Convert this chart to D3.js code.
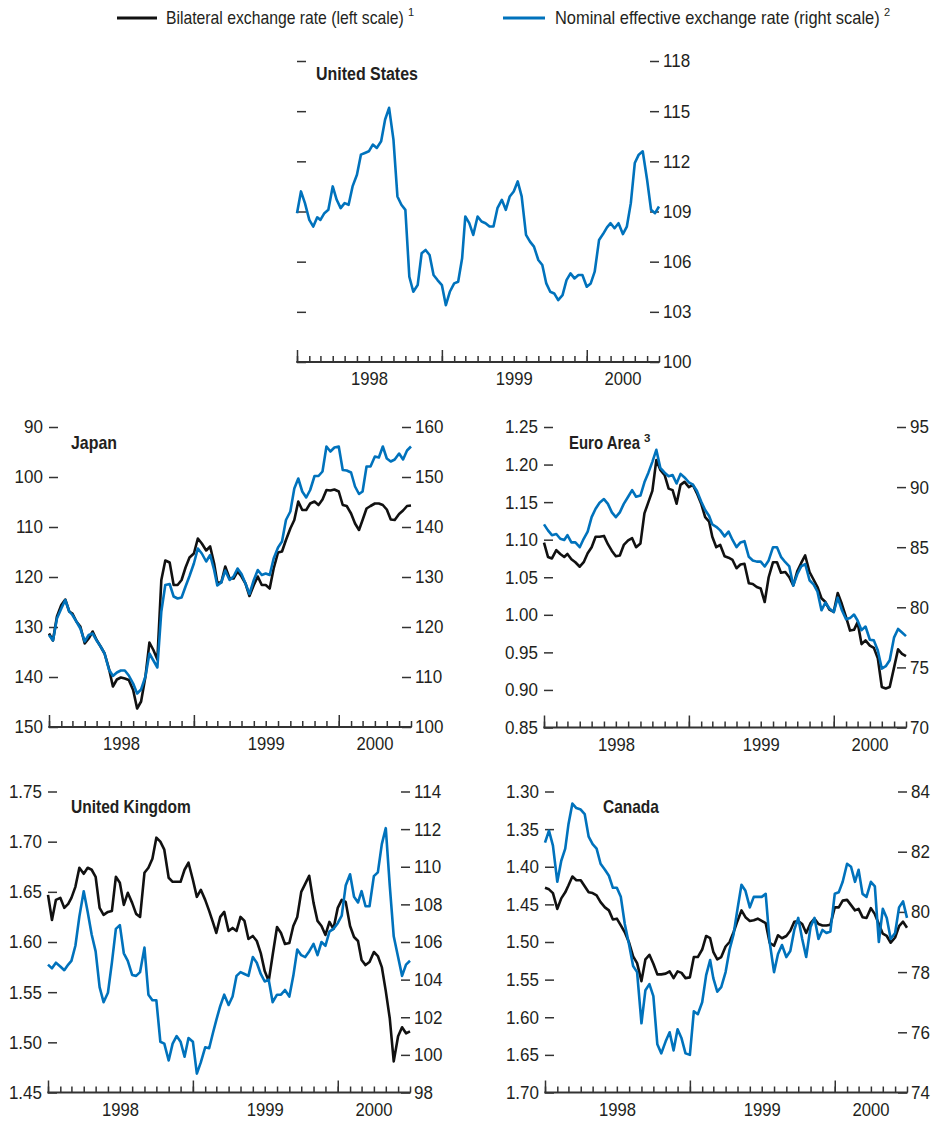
<!DOCTYPE html>
<html><head><meta charset="utf-8">
<script src="https://cdn.jsdelivr.net/npm/d3@7"></script>
<style>
body{margin:0;background:#fff;}
svg text{font-family:"Liberation Sans",Arial,sans-serif;fill:#231f20;}
</style></head><body>
<svg id="chart" width="935" height="1121"></svg>
<script>
// ---------- DATA (~10-day spacing) ----------
const yearLabels = ["1998", "1999", "2000"];
const legendLabels = ["Bilateral exchange rate (left scale)", "Nominal effective exchange rate (right scale)"];
const legendNotes = ["1", "2"];

const usRightTicks = [100, 103, 106, 109, 112, 115, 118];
const jpLeftTicks = [90, 100, 110, 120, 130, 140, 150];
const jpRightTicks = [100, 110, 120, 130, 140, 150, 160];
const euLeftTicks = [0.85, 0.90, 0.95, 1.00, 1.05, 1.10, 1.15, 1.20, 1.25];
const euRightTicks = [70, 75, 80, 85, 90, 95];
const ukLeftTicks = [1.45, 1.50, 1.55, 1.60, 1.65, 1.70, 1.75];
const ukRightTicks = [98, 100, 102, 104, 106, 108, 110, 112, 114];
const caLeftTicks = [1.30, 1.35, 1.40, 1.45, 1.50, 1.55, 1.60, 1.65, 1.70];
const caRightTicks = [74, 76, 78, 80, 82, 84];

const usNeer = [108.9,110.2,109.5,108.5,108.1,108.65,108.5,108.9,109.1,110.5,
 109.7,109.2,109.5,109.4,110.5,111.2,112.4,112.5,112.6,113.0,
 112.8,113.2,114.5,115.2,113.3,109.9,109.4,109.1,105.1,104.2,
 104.6,106.5,106.7,106.4,105.2,104.9,104.6,103.4,104.2,104.7,
 104.8,106.2,108.7,108.3,107.6,108.7,108.4,108.3,108.1,108.1,
 109.2,109.7,109.1,109.9,110.2,110.8,109.9,107.6,107.2,106.9,
 106.1,105.8,104.7,104.2,104.1,103.7,104.0,104.9,105.3,105.0,
 105.2,105.2,104.5,104.7,105.4,107.3,107.65,108.05,108.3,108.0,
 108.3,107.65,108.1,109.5,111.9,112.4,112.6,110.9,109.1,108.9,
 109.3];

const jpBilateral = [131.3,132.7,127.9,125.6,124.5,126.9,127.3,128.9,129.9,133.3,
 132.3,130.9,132.6,133.9,135.3,138.3,141.9,140.5,140.1,140.3,
 140.6,142.6,146.3,144.9,139.9,133.1,134.6,136.5,120.6,116.7,
 117.1,121.6,121.6,120.6,118.1,116.1,115.3,112.3,113.3,114.7,
 113.9,117.3,121.1,121.1,117.9,120.3,120.3,118.9,119.9,121.3,
 123.8,121.6,119.9,121.6,121.6,122.3,118.3,115.1,114.9,112.6,
 110.3,108.6,104.9,106.6,106.6,105.3,104.9,105.6,104.5,102.6,
 102.7,102.5,102.9,105.6,105.8,107.3,109.3,110.6,108.6,106.3,
 105.8,105.3,105.3,105.6,106.5,108.5,108.6,107.4,106.7,105.8,
 105.7];
const jpNeer = [118.4,117.3,121.7,123.7,125.4,123.1,122.4,121.1,119.7,117.1,
 118.4,118.7,117.3,116.1,114.7,111.5,110.2,110.9,111.3,111.3,
 110.3,108.7,106.7,107.5,110.1,114.7,113.3,111.9,123.1,128.4,
 128.6,126.1,125.7,125.9,128.1,130.2,132.7,135.7,134.7,133.1,
 134.4,131.4,128.3,128.9,131.3,129.4,130.1,131.7,130.6,128.7,
 126.6,129.4,131.4,130.4,130.7,130.4,133.7,135.9,137.1,141.4,
 143.1,147.7,149.7,147.1,145.9,147.4,150.2,150.2,151.1,156.1,
 155.1,155.9,156.1,151.4,151.3,150.9,148.1,146.6,147.1,152.1,
 152.1,154.1,153.9,156.1,153.7,153.1,153.5,154.7,153.5,155.3,
 156.1];

const euBilateral = [1.096,1.077,1.075,1.086,1.081,1.077,1.081,1.074,1.070,1.064,
 1.070,1.082,1.090,1.104,1.104,1.105,1.094,1.085,1.078,1.079,
 1.093,1.099,1.102,1.090,1.095,1.135,1.150,1.165,1.206,1.193,
 1.186,1.168,1.166,1.148,1.173,1.177,1.170,1.173,1.162,1.148,
 1.130,1.124,1.104,1.090,1.093,1.078,1.076,1.073,1.062,1.067,
 1.068,1.042,1.041,1.037,1.035,1.017,1.050,1.070,1.070,1.056,
 1.057,1.050,1.039,1.058,1.069,1.079,1.057,1.047,1.037,1.022,
 1.017,1.007,1.004,1.029,1.015,0.997,0.979,0.980,0.990,0.961,
 0.966,0.959,0.956,0.942,0.904,0.902,0.904,0.930,0.954,0.948,
 0.945];
const euNeer = [86.9,86.4,86.0,86.1,85.7,85.6,86.0,85.4,85.4,85.0,
 85.7,86.3,87.5,88.2,88.7,89.0,88.6,87.9,87.5,87.9,
 88.6,89.2,89.75,89.2,89.3,90.4,91.2,92.1,93.1,91.6,
 91.2,90.9,91.0,90.3,91.1,90.8,90.4,90.2,89.7,88.8,
 88.1,87.6,86.9,86.7,86.4,85.9,86.3,85.6,85.0,85.4,
 85.5,84.2,83.9,83.8,83.8,83.4,83.9,85.0,85.0,84.2,
 83.75,83.4,81.8,82.75,83.4,83.6,82.25,81.9,81.3,79.75,
 80.4,79.9,79.6,80.8,79.8,79.0,79.1,79.4,78.9,78.1,
 78.4,77.3,77.25,76.4,74.9,75.1,75.6,77.5,78.2,77.9,
 77.6];

const ukBilateral = [1.647,1.622,1.642,1.644,1.634,1.638,1.644,1.655,1.674,1.668,
 1.674,1.672,1.665,1.634,1.627,1.630,1.631,1.665,1.659,1.637,
 1.649,1.639,1.628,1.625,1.669,1.674,1.683,1.704,1.700,1.692,
 1.664,1.660,1.660,1.660,1.672,1.679,1.662,1.645,1.652,1.642,
 1.631,1.619,1.609,1.625,1.630,1.611,1.614,1.611,1.625,1.621,
 1.603,1.606,1.601,1.589,1.571,1.561,1.587,1.615,1.609,1.598,
 1.599,1.616,1.625,1.650,1.658,1.666,1.639,1.621,1.616,1.607,
 1.620,1.613,1.634,1.642,1.640,1.616,1.605,1.601,1.582,1.577,
 1.580,1.590,1.586,1.575,1.551,1.524,1.481,1.506,1.515,1.509,
 1.511];
const ukNeer = [104.8,104.6,104.9,104.7,104.5,104.8,105.0,105.8,107.35,108.7,
 107.6,106.4,105.5,103.6,102.8,103.3,104.9,106.7,106.9,105.4,
 105.0,104.25,104.2,104.4,105.7,103.2,102.9,102.9,100.7,100.6,
 99.7,100.6,101.0,100.7,99.9,100.9,100.7,99.0,99.6,100.4,
 100.35,101.2,101.85,102.6,103.2,102.65,103.1,104.2,104.4,104.3,
 104.2,105.2,104.9,104.3,103.9,104.0,102.8,103.2,103.2,103.45,
 103.1,104.2,105.6,105.3,105.2,105.5,105.9,105.3,106.0,105.8,
 106.55,106.7,107.0,107.4,109.0,109.6,108.4,108.1,108.7,107.9,
 107.9,109.5,109.7,111.2,112.05,109.0,106.3,105.2,104.2,104.8,
 105.0];

const caBilateral = [1.428,1.430,1.435,1.456,1.442,1.434,1.425,1.413,1.418,1.418,
 1.426,1.434,1.435,1.438,1.447,1.454,1.458,1.470,1.469,1.478,
 1.487,1.501,1.519,1.528,1.552,1.523,1.517,1.529,1.543,1.543,
 1.542,1.539,1.548,1.539,1.541,1.548,1.547,1.520,1.520,1.510,
 1.492,1.495,1.513,1.523,1.520,1.506,1.500,1.487,1.472,1.458,
 1.467,1.472,1.471,1.469,1.472,1.475,1.501,1.505,1.491,1.495,
 1.492,1.485,1.473,1.472,1.476,1.488,1.475,1.469,1.476,1.478,
 1.478,1.477,1.454,1.454,1.445,1.444,1.451,1.458,1.456,1.467,
 1.468,1.455,1.463,1.476,1.489,1.492,1.501,1.494,1.479,1.473,
 1.481];
const caNeer = [82.3,82.7,82.2,81.0,81.7,82.1,82.9,83.6,83.45,83.4,
 83.25,82.5,82.25,82.1,81.6,81.4,81.2,80.8,80.8,80.5,
 79.6,78.9,78.2,78.0,76.3,77.4,77.6,77.2,75.6,75.3,
 75.7,76.0,75.4,76.1,75.8,75.3,75.25,76.7,76.6,77.0,
 77.9,78.4,77.8,77.35,77.5,78.0,78.75,79.25,80.1,80.9,
 80.7,80.15,80.5,80.5,80.5,80.6,79.0,78.0,78.6,78.9,
 78.5,78.7,79.4,79.8,79.1,78.5,79.5,79.8,79.1,79.4,
 79.3,79.35,80.6,80.65,81.0,81.6,81.5,81.0,81.4,80.6,
 80.5,81.0,80.85,79.0,80.1,79.8,79.1,79.3,80.15,80.35,
 79.8];

// observation dates: 1st, 11th, 21st of each month, Jan 1998 - Jul 2000
const dates = d3.range(usNeer.length).map(k => k === 90 ? new Date(2000, 6, 1)
  : new Date(1998, Math.floor(k / 3), 1 + 10 * (k % 3)));

// ---------- STYLE / LAYOUT ----------
const BLUE = "#0072bc", BLACK = "#111";
const AX = "#333";
const FS = 18.5;      // numeric labels
const NUMK = 0.92;    // horizontal condensing of numeric labels
const xStart = new Date(1998, 0, 1), xEnd = new Date(2000, 6, 1);
const monthTicks = d3.timeMonth.range(xStart, d3.timeMonth.offset(xEnd, 1));
const yearStarts = monthTicks.filter(d => d.getMonth() === 0);

// squeeze text horizontally by a factor k around its anchor
function condense(sel, k) {
  sel.each(function () {
    const t = d3.select(this);
    const x = +t.attr("x") || 0, y = +t.attr("y") || 0;
    t.attr("transform", `translate(${x},${y}) scale(${k},1)`).attr("x", 0).attr("y", 0);
  });
}
// squeeze a start-anchored text so that it spans a given width
function fitWidth(t, w) {
  const nat = t.node().getComputedTextLength();
  condense(t, Math.min(1, w / nat));
}

const panels = [
  {title: "United States", sup: "", tw: 102, box: [297, 659, 61, 362], tAt: [316, 80],
   left: {domain: [100, 118], ticks: usRightTicks, fmt: null},
   right: {domain: [100, 118], ticks: usRightTicks, fmt: d3.format("d")},
   series: [{v: usNeer, side: "right", color: BLUE}]},
  {title: "Japan", sup: "", tw: 46, box: [49, 411, 427, 727], tAt: [71, 449],
   left: {domain: [150, 90], ticks: jpLeftTicks, fmt: d3.format("d")},
   right: {domain: [100, 160], ticks: jpRightTicks, fmt: d3.format("d")},
   series: [{v: jpBilateral, side: "left", color: BLACK}, {v: jpNeer, side: "right", color: BLUE}]},
  {title: "Euro Area", sup: "3", tw: 71, box: [544, 906, 427, 727.5], tAt: [569, 449],
   left: {domain: [0.85, 1.25], ticks: euLeftTicks, fmt: d3.format(".2f")},
   right: {domain: [70, 95], ticks: euRightTicks, fmt: d3.format("d")},
   series: [{v: euBilateral, side: "left", color: BLACK}, {v: euNeer, side: "right", color: BLUE}]},
  {title: "United Kingdom", sup: "", tw: 120, box: [48, 410, 791.5, 1092.5], tAt: [71, 813],
   left: {domain: [1.45, 1.75], ticks: ukLeftTicks, fmt: d3.format(".2f")},
   right: {domain: [98, 114], ticks: ukRightTicks, fmt: d3.format("d")},
   series: [{v: ukBilateral, side: "left", color: BLACK}, {v: ukNeer, side: "right", color: BLUE}]},
  {title: "Canada", sup: "", tw: 56, box: [545, 907, 791.5, 1092.5], tAt: [603, 813],
   left: {domain: [1.70, 1.30], ticks: caLeftTicks, fmt: d3.format(".2f")},
   right: {domain: [74, 84], ticks: caRightTicks, fmt: d3.format("d")},
   series: [{v: caBilateral, side: "left", color: BLACK}, {v: caNeer, side: "right", color: BLUE}]}
];

const svg = d3.select("#chart");

// ---------- LEGEND ----------
const legendItems = [
  {label: legendLabels[0], note: legendNotes[0], color: BLACK, x1: 117, x2: 157, tx: 166, tw: 238},
  {label: legendLabels[1], note: legendNotes[1], color: BLUE, x1: 503, x2: 545, tx: 555, tw: 325}
];
const lg = svg.append("g");
legendItems.forEach(it => {
  lg.append("line").attr("x1", it.x1).attr("x2", it.x2).attr("y1", 18).attr("y2", 18)
    .attr("stroke", it.color).attr("stroke-width", 3);
  const t = lg.append("text").attr("x", it.tx).attr("y", 24).attr("font-size", 18).text(it.label);
  fitWidth(t, it.tw);
  lg.append("text").attr("x", it.tx + it.tw + 4).attr("y", 16).attr("font-size", 11).text(it.note);
});

// ---------- PANELS ----------
panels.forEach(p => {
  const [x0, x1, y0, y1] = p.box;
  const g = svg.append("g");
  const x = d3.scaleTime().domain([xStart, xEnd]).range([x0, x1]);
  const yL = d3.scaleLinear().domain(p.left.domain).range([y1, y0]);
  const yR = d3.scaleLinear().domain(p.right.domain).range([y1, y0]);

  // left axis (ticks inward)
  const la = g.append("g").attr("transform", `translate(${x0},0)`)
    .call(d3.axisLeft(yL).tickValues(p.left.ticks).tickSize(-9).tickPadding(6)
      .tickFormat(p.left.fmt ? p.left.fmt : () => ""));
  // right axis
  const ra = g.append("g").attr("transform", `translate(${x1},0)`)
    .call(d3.axisRight(yR).tickValues(p.right.ticks).tickSize(-9).tickPadding(4)
      .tickFormat(p.right.fmt));
  [la, ra].forEach(a => {
    a.select(".domain").remove();
    a.selectAll(".tick line").attr("stroke", AX).attr("stroke-width", 1.5);
    a.selectAll(".tick text").attr("font-size", FS).attr("fill", "#231f20")
      .style("font-family", '"Liberation Sans",Arial,sans-serif');
    condense(a.selectAll(".tick text"), NUMK);
  });

  // x axis: minor month ticks and major year ticks, pointing up
  const xa = g.append("g").attr("transform", `translate(0,${y1})`);
  xa.call(d3.axisBottom(x).tickValues(monthTicks).tickSize(-6).tickFormat(() => ""));
  xa.select(".domain").remove();
  xa.selectAll(".tick line").attr("stroke", AX).attr("stroke-width", 1.5);
  const xb = g.append("g").attr("transform", `translate(0,${y1})`);
  xb.call(d3.axisBottom(x).tickValues(yearStarts).tickSize(-12).tickFormat(() => ""));
  xb.select(".domain").remove();
  xb.selectAll(".tick line").attr("stroke", AX).attr("stroke-width", 1.5);
  g.append("line").attr("x1", x0 - 0.75).attr("x2", x1 + 0.75).attr("y1", y1).attr("y2", y1)
    .attr("stroke", AX).attr("stroke-width", 2);

  // year labels centred on each year's visible span
  const yl = g.append("g");
  yearLabels.forEach((lab, i) => {
    const a = d3.max([yearStarts[i], xStart]);
    const b = d3.min([d3.timeYear.offset(yearStarts[i], 1), xEnd]);
    yl.append("text").attr("x", (x(a) + x(b)) / 2).attr("y", y1 + 23)
      .attr("text-anchor", "middle").attr("font-size", FS).text(lab);
  });
  condense(yl.selectAll("text"), 0.9);

  // series
  p.series.forEach(s => {
    const yy = s.side === "left" ? yL : yR;
    const line = d3.line().x((d, i) => x(dates[i])).y(d => yy(d));
    g.append("path").datum(s.v).attr("d", line).attr("fill", "none")
      .attr("stroke", s.color).attr("stroke-width", 2.6).attr("stroke-linejoin", "round");
  });

  // title
  const tt = g.append("text").attr("x", p.tAt[0]).attr("y", p.tAt[1])
    .attr("font-size", 18).attr("font-weight", "bold").attr("fill", "#2b2728").text(p.title);
  fitWidth(tt, p.tw);
  if (p.sup) g.append("text").attr("x", p.tAt[0] + p.tw + 4).attr("y", p.tAt[1] - 7)
    .attr("font-size", 11.5).attr("font-weight", "bold").attr("fill", "#2b2728").text(p.sup);
});
</script>
</body></html>
